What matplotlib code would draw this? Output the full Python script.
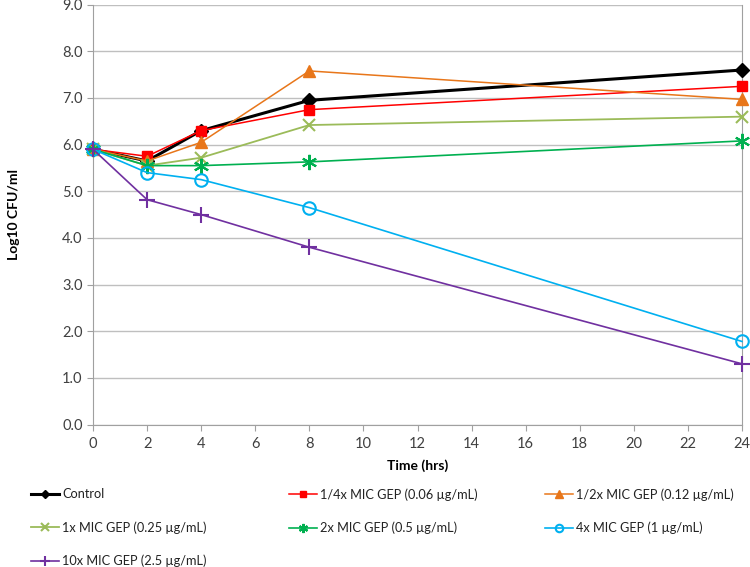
import matplotlib
matplotlib.use("Agg")
import matplotlib.pyplot as plt

plt.rcParams['font.family'] = ['Lato', 'DejaVu Sans']

time_hrs = [0, 2, 4, 8, 24]
control = [5.9, 5.65, 6.3, 6.95, 7.6]
quarter_mic = [5.9, 5.75, 6.3, 6.75, 7.25]
half_mic = [5.9, 5.65, 6.05, 7.58, 6.97]
one_mic = [5.9, 5.55, 5.72, 6.42, 6.6]
two_mic = [5.9, 5.55, 5.55, 5.63, 6.08]
four_mic = [5.9, 5.4, 5.25, 4.65, 1.78]
ten_mic = [5.9, 4.82, 4.5, 3.8, 1.3]

labels = ["Control", "1/4x MIC GEP (0.06 µg/mL)", "1/2x MIC GEP (0.12 µg/mL)",
          "1x MIC GEP (0.25 µg/mL)", "2x MIC GEP (0.5 µg/mL)", "4x MIC GEP (1 µg/mL)",
          "10x MIC GEP (2.5 µg/mL)"]
x_ticks = list(range(0, 25, 2))
y_ticks = [i * 1.0 for i in range(10)]

series = [control, quarter_mic, half_mic, one_mic, two_mic, four_mic, ten_mic]
styles = [
    dict(color='black', marker='D', ms=7, lw=2.2, mfc='black'),
    dict(color='#FF0000', marker='s', ms=6.5, lw=1.1, mfc='#FF0000'),
    dict(color='#E8761A', marker='^', ms=9, lw=1.1, mfc='#E8761A'),
    dict(color='#9BBB59', marker='x', ms=9, lw=1.3, mew=1.5),
    dict(color='#00B050', marker=(6, 2, 0), ms=11, lw=1.2, mew=1.5),
    dict(color='#00B0F0', marker='o', ms=9, lw=1.2, mfc='none', mew=1.5),
    dict(color='#7030A0', marker='+', ms=11, lw=1.2, mew=1.5),
]

W, H = 750, 567
fig = plt.figure(figsize=(7.5, 5.67), dpi=100)
ax_h = 424.5 - 4.7
ax_w = 742 - 93
ax = fig.add_axes([93 / W, 1 - 424.5 / H, ax_w / W, ax_h / H])

handles = []
for ys, st, lab in zip(series, styles, labels):
    h, = ax.plot(time_hrs, ys, label=lab, zorder=3, clip_on=False, **st)
    handles.append(h)

ax.set_xlim(0, 24)
ax.set_ylim(0, 9)
ax.set_xticks(x_ticks)
ax.set_yticks(y_ticks)
ax.set_yticklabels([f"{v:.1f}" for v in y_ticks])
ax.yaxis.grid(True, color='#BFBFBF', lw=1.0)
ax.set_axisbelow(True)
ax.spines['top'].set_visible(False)
for s in ['left', 'right', 'bottom']:
    ax.spines[s].set_color('#A0A0A0')
ax.tick_params(axis='both', colors='#A0A0A0', labelcolor='#404040', labelsize=10.5, length=4)
ax.tick_params(axis='x', pad=5)
ax.set_xlabel("Time (hrs)", fontsize=10, fontweight='bold', color='black')
ax.xaxis.set_label_coords(0.5, -(459 - 424.5) / ax_h)
ax.set_ylabel("Log10 CFU/ml", fontsize=10, fontweight='bold', color='black')
ax.yaxis.set_label_coords(-(93 - 20) / ax_w, 0.5)

# legend: three columns placed at reference positions
cols = [([0, 3, 6], 31), ([1, 4], 289), ([2, 5], 545)]
for idx, xpix in cols:
    lg = fig.legend([handles[i] for i in idx], [labels[i] for i in idx],
                    loc='upper left', bbox_to_anchor=(xpix / W, 1 - 488 / H),
                    frameon=False, fontsize=9.2, handlelength=2.2, handletextpad=0.25,
                    borderpad=0, borderaxespad=0, labelspacing=1.65, markerscale=0.6)
    for t in lg.get_texts():
        t.set_color('#222222')

fig.savefig("out.png", dpi=100)
